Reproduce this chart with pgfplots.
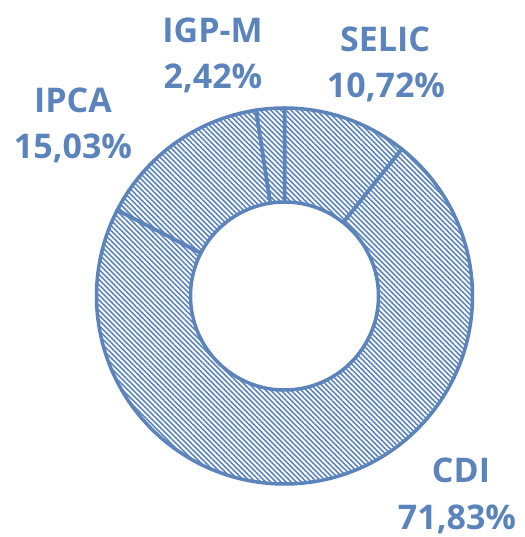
\documentclass[border=0pt]{standalone}
\usepackage{pgfplots}
\pgfplotsset{compat=1.18}
\usepackage{fontspec}
\setmainfont{Open Sans}
\usetikzlibrary{patterns.meta}
\definecolor{donut}{HTML}{5B84BC}
% shares (percent), clockwise from 12 o'clock
\def\vSELIC{10.72}
\def\vCDI{71.83}
\def\vIPCA{15.03}
\def\vIGPM{2.42}
\pgfmathsetmacro\aA{90}
\pgfmathsetmacro\aB{\aA-3.6*\vSELIC}
\pgfmathsetmacro\aC{\aB-3.6*\vCDI}
\pgfmathsetmacro\aD{\aC-3.6*\vIPCA}
\pgfmathsetmacro\aE{\aD-3.6*\vIGPM}
\def\cx{284.5}
\def\cy{241}
\newcommand\wedgeseg[2]{%
  \filldraw[draw=donut, line width=3.5pt, line join=round,
    pattern={Lines[angle=-45, distance=3.6pt, line width=1.6pt]}, pattern color=donut]
    ([shift={(#1:188pt)}]axis cs:\cx,\cy) arc[start angle=#1, end angle=#2, radius=188pt]
    -- ([shift={(#2:94pt)}]axis cs:\cx,\cy) arc[start angle=#2, end angle=#1, radius=94pt]
    -- cycle;}
\begin{document}
\begin{tikzpicture}
\begin{axis}[
  scale only axis, width=524pt, height=537pt,
  xmin=0, xmax=524, ymin=0, ymax=537,
  hide axis, clip=false,
]
\path (axis cs:0,0) rectangle (axis cs:524,537);
\wedgeseg{\aA}{\aB}
\wedgeseg{\aB}{\aC}
\wedgeseg{\aC}{\aD}
\wedgeseg{\aD}{\aE}
\begin{scope}[every node/.style={anchor=base, text=donut, font=\fontsize{34}{40}\selectfont\bfseries, inner sep=0pt}]
\node at (axis cs:385,485) {SELIC};
\node at (axis cs:386,439) {10,72\%};
\node at (axis cs:212.5,494) {IGP-M};
\node at (axis cs:213,448) {2,42\%};
\node at (axis cs:73,424) {IPCA};
\node at (axis cs:73,378) {15,03\%};
\node at (axis cs:461,54) {CDI};
\node at (axis cs:457,7) {71,83\%};
\end{scope}
\end{axis}
\end{tikzpicture}
\end{document}
